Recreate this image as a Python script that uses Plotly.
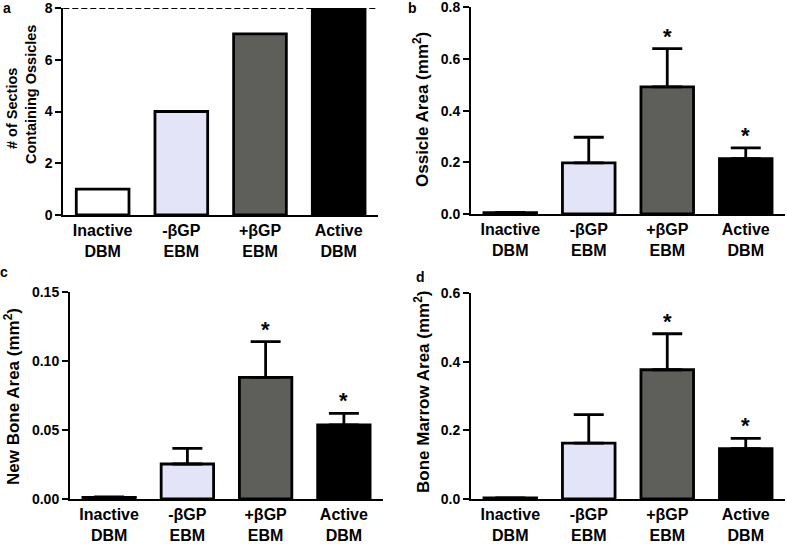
import plotly.graph_objects as go

categories = ["Inactive<br>DBM", "-βGP<br>EBM", "+βGP<br>EBM", "Active<br>DBM"]
bar_colors = ["#FFFFFF", "#E4E4F8", "#5E5F5A", "#000000"]

# panel a: number of sections containing ossicles
sections = [1, 4, 7, 8]
sections_max = 8

# panel b: ossicle area (mm^2)
ossicle_mean = [0.005, 0.198, 0.492, 0.214]
ossicle_err = [0.001, 0.099, 0.148, 0.042]

# panel c: new bone area (mm^2)
bone_mean = [0.0012, 0.0254, 0.0883, 0.0537]
bone_err = [0.0003, 0.0114, 0.0259, 0.0085]

# panel d: bone marrow area (mm^2)
marrow_mean = [0.003, 0.163, 0.377, 0.147]
marrow_err = [0.0005, 0.083, 0.105, 0.030]

significant = [False, False, True, True]

FONT = "Liberation Sans, Arial, sans-serif"

fig = go.Figure()

def add_bar(vals, errs, ax):
    kw = dict(
        x=categories, y=vals,
        marker=dict(color=bar_colors, line=dict(color="black", width=2.8)),
        xaxis="x" + ax, yaxis="y" + ax, showlegend=False, hoverinfo="skip",
    )
    if errs is not None:
        kw["error_y"] = dict(type="data", symmetric=False, array=errs,
                             arrayminus=[0] * len(errs), color="black",
                             thickness=2.8, width=15)
    fig.add_trace(go.Bar(**kw))

add_bar(sections, None, "")
add_bar(ossicle_mean, ossicle_err, "2")
add_bar(bone_mean, bone_err, "3")
add_bar(marrow_mean, marrow_err, "4")

W, H = 787, 544
def px_x(a, b):
    return [a / W, b / W]
def px_y(top, bottom):
    return [1 - bottom / H, 1 - top / H]

doms = {
    "": (px_x(63.3, 378), px_y(8, 215), [0, 8], [0, 2, 4, 6, 8], "d"),
    "2": (px_x(471, 785), px_y(7.3, 214), [0, 0.8], [0, 0.2, 0.4, 0.6, 0.8], ".1f"),
    "3": (px_x(70, 383), px_y(292.3, 499), [0, 0.15], [0, 0.05, 0.10, 0.15], ".2f"),
    "4": (px_x(471, 785), px_y(293.3, 499), [0, 0.6], [0, 0.2, 0.4, 0.6], ".1f"),
}

layout = dict(
    template="none",
    width=W, height=H,
    margin=dict(l=0, r=0, t=0, b=0, autoexpand=False),
    paper_bgcolor="white", plot_bgcolor="white",
    bargap=0.33,
    font=dict(family=FONT, color="black", size=14, weight="bold"),
)
for ax, (xd, yd, yr, tv, fmt) in doms.items():
    layout["xaxis" + ax] = dict(
        domain=xd, anchor="y" + ax, type="category", range=[-0.5, 3.5],
        showline=True, linecolor="black", linewidth=2, ticks="",
        showgrid=False, zeroline=False, fixedrange=True, automargin=False,
        tickfont=dict(family=FONT, size=16, color="black", weight="bold"),
        ticklabelstandoff=0, ticklabeloverflow="allow",
    )
    layout["yaxis" + ax] = dict(
        domain=yd, anchor="x" + ax, range=yr, tickvals=tv, tickformat=fmt,
        showline=True, linecolor="black", linewidth=2,
        ticks="outside", ticklen=6, tickwidth=2, tickcolor="black",
        showgrid=False, zeroline=False, fixedrange=True, automargin=False,
        tickfont=dict(family=FONT, size=14, color="black", weight="bold"),
        ticklabeloverflow="allow",
    )
fig.update_layout(**layout)

# dashed reference line at the maximum number of sections
fig.add_shape(type="line", xref="x domain", yref="y", x0=0, x1=1,
              y0=sections_max, y1=sections_max,
              line=dict(color="black", width=2, dash="6px,3px"))

annotations = []
# axis titles (text, centre x px, centre y px, size)
titles = [
    ("# of Sectios", 12, 109, 14.5),
    ("Containing Ossicles", 31, 95, 14.5),
    ("Ossicle Area (mm<sup>2</sup>)", 421, 109, 17),
    ("New Bone Area (mm<sup>2</sup>)", 12, 397, 17),
    ("Bone Marrow Area (mm<sup>2</sup>)", 422, 392, 17),
]
for text, x, y, size in titles:
    annotations.append(dict(
        text=text, xref="paper", yref="paper", x=x / W, y=1 - y / H,
        xanchor="center", yanchor="middle", textangle=-90, showarrow=False,
        font=dict(family=FONT, size=size, color="black", weight="bold"),
    ))

# panel letters
for text, x, y in [("a", 7, 8), ("b", 412, 8), ("c", 4, 272), ("d", 420, 277)]:
    annotations.append(dict(
        text=text, xref="paper", yref="paper", x=x / W, y=1 - y / H,
        xanchor="center", yanchor="middle", showarrow=False,
        font=dict(family=FONT, size=14, color="black", weight="bold"),
    ))

# significance asterisks
for ax, means, errs in [("2", ossicle_mean, ossicle_err),
                        ("3", bone_mean, bone_err),
                        ("4", marrow_mean, marrow_err)]:
    for cat, m, e, s in zip(categories, means, errs, significant):
        if s:
            annotations.append(dict(
                text="*", x=cat, y=m + e, xref="x" + ax, yref="y" + ax,
                xanchor="center", yanchor="bottom", yshift=-2, showarrow=False,
                font=dict(family=FONT, size=22, color="black", weight="bold"),
            ))

fig.update_layout(annotations=annotations)

fig.write_html(
    "out.html",
    config={"displayModeBar": False},
    post_script="document.body.style.margin='0';document.body.style.overflow='hidden';",
)
